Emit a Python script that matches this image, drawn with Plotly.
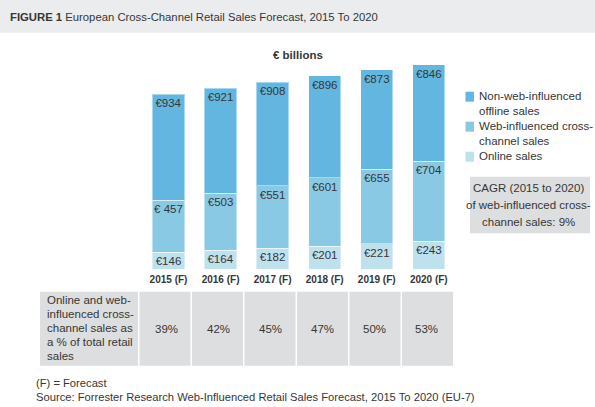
import plotly.graph_objects as go

W, H = 595, 407

# ---------------- data ----------------
years = ["2015 (F)", "2016 (F)", "2017 (F)", "2018 (F)", "2019 (F)", "2020 (F)"]
online_sales = [146, 164, 182, 201, 221, 243]
web_influenced = [457, 503, 551, 601, 655, 704]
non_web_offline = [934, 921, 908, 896, 873, 846]
share_pct = [39, 42, 45, 47, 50, 53]

series_names = ["Non-web-influenced<br>offline sales",
                "Web-influenced cross-<br>channel sales",
                "Online sales"]
cagr_lines = ["CAGR (2015 to 2020)", "of web-influenced cross-", "channel sales: 9%"]
table_label_lines = ["Online and web-", "influenced cross-", "channel sales as",
                     "a % of total retail", "sales"]

# ---------------- style ----------------
FONT = "Liberation Sans, Arial, Helvetica, sans-serif"
TXT = "#363636"
C_TOP = "#62B6E0"
C_MID = "#89C9E3"
C_BOT = "#BEE1EE"
GRAY = "#DDDEDF"
BAND = "#EBECED"


def py(px):
    """pixel y (from top) -> paper y"""
    return 1 - px / H


def pxx(px):
    return px / W


def euro(vals):
    return ["€" + str(v) for v in vals]


web_text = euro(web_influenced)
web_text[0] = "€ 457"

fig = go.Figure()
for vals, txt, col in [(online_sales, euro(online_sales), C_BOT),
                       (web_influenced, web_text, C_MID),
                       (non_web_offline, euro(non_web_offline), C_TOP)]:
    fig.add_trace(go.Bar(
        x=years, y=vals, text=txt, textposition="inside",
        insidetextanchor="end", textangle=0, constraintext="none",
        textfont=dict(family=FONT, size=11.5, color=TXT),
        marker=dict(color=col, line=dict(color="rgba(255,255,255,0.45)", width=1)),
        hoverinfo="skip", showlegend=False))

shapes = []
annotations = []

# header band
shapes.append(dict(type="rect", xref="paper", yref="paper", x0=0, x1=1,
                   y0=py(32.7), y1=1, fillcolor=BAND, line=dict(width=0), layer="below"))
annotations.append(dict(xref="paper", yref="paper", x=pxx(7.5), y=py(16.7),
                        xanchor="left", yanchor="middle", showarrow=False,
                        text="<b>FIGURE 1</b> European Cross-Channel Retail Sales Forecast, 2015 To 2020",
                        font=dict(family=FONT, size=11.3, color=TXT)))
annotations.append(dict(xref="paper", yref="paper", x=pxx(297.5), y=py(54.5),
                        xanchor="center", yanchor="middle", showarrow=False,
                        text="<b>€ billions</b>", font=dict(family=FONT, size=11.5, color=TXT)))

# legend (manual)
leg_cols = [C_TOP, C_MID, C_BOT]
sq_y = [96.7, 126.7, 156.7]
for name, col, yc in zip(series_names, leg_cols, sq_y):
    shapes.append(dict(type="rect", xref="paper", yref="paper",
                       x0=pxx(465.5), x1=pxx(474), y0=py(yc + 5), y1=py(yc - 5),
                       fillcolor=col, line=dict(width=0)))
    annotations.append(dict(xref="paper", yref="paper", x=pxx(476.5), y=py(yc - 8.5),
                            xanchor="left", yanchor="top", align="left", showarrow=False,
                            text=name, font=dict(family=FONT, size=11.5, color=TXT)))

# CAGR box
shapes.append(dict(type="rect", xref="paper", yref="paper", x0=pxx(470), x1=pxx(590),
                   y0=py(233.3), y1=py(176.7), fillcolor=GRAY, line=dict(width=0)))
for i, line in enumerate(cagr_lines):
    annotations.append(dict(xref="paper", yref="paper", x=pxx(528), y=py(188.3 + 16.7 * i),
                            xanchor="center", yanchor="middle", showarrow=False,
                            text=line, font=dict(family=FONT, size=11.5, color=TXT)))

# table row
t_top, t_bot = 291.7, 365.7
shapes.append(dict(type="rect", xref="paper", yref="paper", x0=pxx(40), x1=pxx(138.0),
                   y0=py(t_bot), y1=py(t_top), fillcolor=GRAY, line=dict(width=0)))
for i, line in enumerate(table_label_lines):
    annotations.append(dict(xref="paper", yref="paper", x=pxx(44.5), y=py(300 + 14 * i),
                            xanchor="left", yanchor="middle", showarrow=False,
                            text=line, font=dict(family=FONT, size=11.5, color=TXT)))
cell_left, cell_w = 139.5, 52.5
for i, (yr, p) in enumerate(zip(years, share_pct)):
    x0 = cell_left + cell_w * i
    shapes.append(dict(type="rect", xref="paper", yref="paper",
                       x0=pxx(x0), x1=pxx(x0 + cell_w - 1.5),
                       y0=py(t_bot), y1=py(t_top), fillcolor=GRAY, line=dict(width=0)))
    annotations.append(dict(xref="x", yref="paper", x=yr, y=py(329),
                            xshift=-2,
                            xanchor="center", yanchor="middle", showarrow=False,
                            text=f"{p}%", font=dict(family=FONT, size=11.5, color=TXT)))

# footnotes
annotations.append(dict(xref="paper", yref="paper", x=pxx(34), y=py(382.7),
                        xanchor="left", yanchor="middle", showarrow=False,
                        text="(F) = Forecast", font=dict(family=FONT, size=11.2, color=TXT)))
annotations.append(dict(xref="paper", yref="paper", x=pxx(34), y=py(396.7),
                        xanchor="left", yanchor="middle", showarrow=False,
                        text="Source: Forrester Research Web-Influenced Retail Sales Forecast, 2015 To 2020 (EU-7)",
                        font=dict(family=FONT, size=11.2, color=TXT)))

x_left = 168.5 - 0.5 * 52.06
x_right = 428.8 + 0.5 * 52.06
y_bottom, y_top = 269.0, 60.0
ymax = (y_bottom - y_top) / 0.1138

fig.update_layout(
    width=W, height=H, margin=dict(l=0, r=0, t=0, b=0),
    paper_bgcolor="white", plot_bgcolor="white",
    barmode="stack", bargap=0.38,
    font=dict(family=FONT, color=TXT),
    xaxis=dict(domain=[x_left / W, x_right / W], range=[-0.5, 5.5], type="category",
               showgrid=False, zeroline=False, showline=False, ticks="",
               tickfont=dict(family=FONT, size=10, color=TXT, weight="bold"),
               ticklabelstandoff=3),
    yaxis=dict(domain=[py(y_bottom), py(y_top)], range=[0, ymax], visible=False,
               showgrid=False, zeroline=False),
    shapes=shapes, annotations=annotations,
    showlegend=False,
)

fig.write_html("out.html", config={"displayModeBar": False},
               post_script="document.body.style.margin='0';document.body.style.padding='0';"
                           "document.body.style.overflow='hidden';")
